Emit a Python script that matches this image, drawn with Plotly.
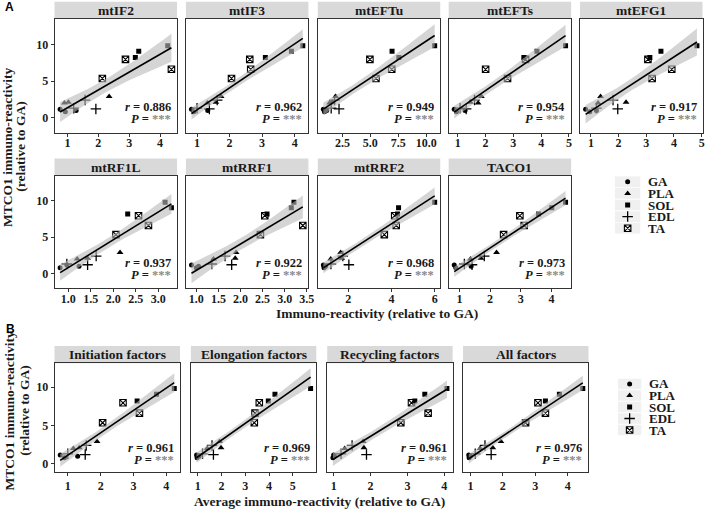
import numpy as np
import plotly.graph_objects as go

W, H = 709, 509

# ---------------- data ----------------
muscles = ["GA", "PLA", "SOL", "EDL", "TA"]
# MTCO1 immuno-reactivity (relative to GA), 3 samples per muscle, order: GA, PLA, SOL, EDL, TA
mtco1 = [1.15, 0.80, 1.00, 2.00, 2.10, 2.90, 8.20, 9.05, 9.80, 1.30, 1.20, 2.40, 7.95, 6.60, 5.35]

factors_A = ["mtIF2", "mtIF3", "mtEFTu", "mtEFTs", "mtEFG1", "mtRF1L", "mtRRF1", "mtRRF2", "TACO1"]
x_mtIF2 = [0.76, 0.93, 1.28, 0.90, 1.03, 2.35, 3.20, 3.31, 4.25, 1.20, 1.92, 1.57, 2.88, 4.37, 2.13]
x_mtIF3 = [0.83, 0.90, 1.33, 1.32, 1.58, 1.74, 3.10, 3.90, 4.25, 1.00, 1.38, 1.62, 2.62, 2.65, 2.06]
x_mtEFTu = [0.80, 0.90, 1.10, 1.36, 1.60, 1.90, 7.55, 6.94, 10.75, 1.50, 2.20, 1.80, 4.96, 6.91, 5.50]
x_mtEFTs = [0.87, 0.95, 1.26, 1.73, 1.45, 1.85, 3.38, 3.85, 4.88, 1.08, 1.30, 1.60, 3.44, 2.00, 2.79]
x_mtEFG1 = [0.81, 0.96, 1.20, 1.26, 2.27, 1.35, 3.13, 3.53, 4.83, 1.20, 1.97, 1.80, 3.06, 3.92, 3.21]
x_mtRF1L = [0.97, 0.82, 1.24, 1.20, 1.43, 2.15, 2.32, 3.29, 3.15, 0.97, 1.43, 1.62, 2.56, 2.78, 2.06]
x_mtRRF1 = [0.89, 1.00, 1.05, 1.39, 1.88, 1.90, 2.60, 3.15, 3.21, 1.35, 1.80, 1.65, 2.55, 3.41, 2.45]
x_mtRRF2 = [0.85, 0.88, 0.95, 1.19, 1.70, 1.65, 4.28, 4.33, 6.00, 1.20, 2.03, 1.75, 4.15, 4.22, 3.67]
x_TACO1 = [0.83, 0.88, 1.38, 1.36, 1.70, 2.21, 3.58, 4.01, 4.46, 1.16, 1.41, 1.81, 2.97, 3.11, 2.44]
r_A = ["0.886", "0.962", "0.949", "0.954", "0.917", "0.937", "0.922", "0.968", "0.973"]

groups_B = ["Initiation factors", "Elongation factors", "Recycling factors", "All factors"]
x_initiation = [0.77, 0.90, 1.30, 1.17, 1.35, 1.89, 3.11, 3.70, 4.24, 1.00, 1.53, 1.56, 2.68, 3.18, 2.06]
x_elongation = [0.95, 0.97, 1.05, 1.40, 1.98, 1.92, 3.97, 4.25, 5.75, 1.20, 1.66, 1.60, 3.59, 3.41, 3.38]
x_recycling = [1.00, 0.98, 1.02, 1.30, 1.82, 1.80, 3.20, 3.47, 4.07, 1.20, 1.89, 1.50, 3.11, 3.56, 2.82]
x_all = [0.95, 0.96, 1.00, 1.30, 1.69, 1.94, 3.31, 3.74, 4.46, 1.15, 1.64, 1.45, 3.08, 3.31, 2.70]
r_B = ["0.961", "0.969", "0.961", "0.976"]

xdata_A = [x_mtIF2, x_mtIF3, x_mtEFTu, x_mtEFTs, x_mtEFG1, x_mtRF1L, x_mtRRF1, x_mtRRF2, x_TACO1]
xdata_B = [x_initiation, x_elongation, x_recycling, x_all]

# ---------------- style / layout ----------------
SERIF = "Liberation Serif"
SANS = "Liberation Sans"
INK = "#1a1a1a"
FRAME = "#333333"
RIBBON = "rgba(185,185,185,0.6)"
STRIP = "#d9d9d9"
KEYBG = "#f0f0f0"

sym = {
    "GA": dict(symbol="circle", size=5, color="black"),
    "PLA": dict(symbol="triangle-up", size=6, color="black"),
    "SOL": dict(symbol="square", size=5, color="black"),
    "EDL": dict(symbol="cross-thin-open", size=7.5, color="black", line=dict(color="black", width=1.3)),
    "TA": dict(symbol="square-x-open", size=6.5, color="black", line=dict(color="black", width=1.1)),
}

T975 = 2.160  # t quantile, df = 13


def px(x):
    return x / W


def py(y):
    return 1 - y / H


def smooth(x, y):
    x = np.asarray(x, float)
    y = np.asarray(y, float)
    n = len(x)
    b1, b0 = np.polyfit(x, y, 1)
    xs = np.linspace(x.min(), x.max(), 80)
    fit = b0 + b1 * xs
    res = y - (b0 + b1 * x)
    s = np.sqrt((res ** 2).sum() / (n - 2))
    se = s * np.sqrt(1 / n + (xs - x.mean()) ** 2 / ((x - x.mean()) ** 2).sum())
    return xs, fit, fit - T975 * se, fit + T975 * se


def xrange_of(x):
    lo, hi = min(x), max(x)
    pad = 0.05 * (hi - lo)
    return [lo - pad, hi + pad]


def yrange_of(xlist):
    lo, hi = min(mtco1), max(mtco1)
    for xd in xlist:
        _, _, l, u = smooth(xd, mtco1)
        lo = min(lo, l.min())
        hi = max(hi, u.max())
    pad = 0.05 * (hi - lo)
    return [lo - pad, hi + pad]


yr_A = yrange_of(xdata_A)
yr_B = yrange_of(xdata_B)

lefts5 = [55, 187.5, 320.5, 452.5, 585]
wA = 123.5
rowsA = [(19, 132.7), (175.7, 288.3)]
leftsB = [55, 192.5, 330, 467]
wB = 126.5
rowB = (363.3, 471.7)

dtick_A = [1, 1, 2.5, 1, 1, 0.5, 0.5, 2, 1]
fmt_A = ["", "", ".1f", "", "", ".1f", ".1f", "", ""]

panels = []
for i, name in enumerate(factors_A):
    row = 0 if i < 5 else 1
    col = i if i < 5 else i - 5
    top, bot = rowsA[row]
    panels.append(dict(name=name, x=xdata_A[i], r=r_A[i], box=(lefts5[col], lefts5[col] + wA, top, bot),
                       first=(col == 0), dtick=dtick_A[i], fmt=fmt_A[i], yr=yr_A, ann=(0.228, 0.118),
                       standoff=-4))
for i, name in enumerate(groups_B):
    top, bot = rowB
    panels.append(dict(name=name, x=xdata_B[i], r=r_B[i], box=(leftsB[i], leftsB[i] + wB, top, bot),
                       first=(i == 0), dtick=1, fmt="", yr=yr_B, ann=(0.222, 0.105), standoff=0))

fig = go.Figure()
layout = dict(width=W, height=H, margin=dict(l=0, r=0, t=0, b=0), autosize=False,
              plot_bgcolor="rgba(0,0,0,0)", paper_bgcolor="white", showlegend=False,
              font=dict(family=SERIF))
annotations = []
shapes = []

tickfont = dict(family=SERIF, size=12, color=INK, weight="bold")

for k, p in enumerate(panels, start=1):
    xa = "x" if k == 1 else f"x{k}"
    ya = "y" if k == 1 else f"y{k}"
    l, r, t, b = p["box"]
    xd = p["x"]
    # points (drawn first; the confidence ribbon is painted over them)
    for j, m in enumerate(muscles):
        fig.add_trace(go.Scatter(x=xd[3 * j:3 * j + 3], y=mtco1[3 * j:3 * j + 3], mode="markers",
                                 marker=sym[m], xaxis=xa, yaxis=ya, hoverinfo="skip"))
    xs, fit, lo, hi = smooth(xd, mtco1)
    fig.add_trace(go.Scatter(x=np.concatenate([xs, xs[::-1]]), y=np.concatenate([hi, lo[::-1]]),
                             fill="toself", fillcolor=RIBBON, line=dict(width=0), mode="lines",
                             xaxis=xa, yaxis=ya, hoverinfo="skip"))
    fig.add_trace(go.Scatter(x=xs, y=fit, mode="lines", line=dict(color="black", width=1.6),
                             xaxis=xa, yaxis=ya, hoverinfo="skip"))

    kx = "xaxis" if k == 1 else f"xaxis{k}"
    ky = "yaxis" if k == 1 else f"yaxis{k}"
    layout[kx] = dict(domain=[px(l), px(r)], range=xrange_of(xd), anchor=ya, showgrid=False, zeroline=False,
                      showline=True, mirror=True, linecolor=FRAME, linewidth=1, ticks="outside", ticklen=3,
                      tickcolor=FRAME, tickwidth=1, tick0=0, dtick=p["dtick"], tickformat=p["fmt"],
                      tickfont=tickfont, ticklabelstandoff=p["standoff"])
    layout[ky] = dict(domain=[py(b), py(t)], range=p["yr"], anchor=xa, showgrid=False, zeroline=False,
                      showline=True, mirror=True, linecolor=FRAME, linewidth=1,
                      ticks="outside" if p["first"] else "", ticklen=3, tickcolor=FRAME, tickwidth=1,
                      tickvals=[0, 5, 10], showticklabels=p["first"], tickfont=tickfont)
    # strip
    shapes.append(dict(type="rect", xref="paper", yref="paper", x0=px(l), x1=px(r), y0=py(t), y1=py(t - 17.3),
                       fillcolor=STRIP, line=dict(width=0), layer="below"))
    annotations.append(dict(text=p["name"], xref="paper", yref="paper", x=px((l + r) / 2), y=py(t - 8.5),
                            showarrow=False, xanchor="center", yanchor="middle",
                            font=dict(family=SERIF, size=13.5, color=INK, weight="bold")))
    # correlation labels
    annotations.append(dict(text=f"<i>r</i> = {p['r']}", xref=f"{xa} domain", yref=f"{ya} domain",
                            x=1, xshift=-4, y=p["ann"][0], showarrow=False, xanchor="right", yanchor="middle",
                            font=dict(family=SERIF, size=12.5, color=INK, weight="bold")))
    annotations.append(dict(text="<i>P</i> = <span style='color:#8a8a8a'>***</span>", xref=f"{xa} domain",
                            yref=f"{ya} domain", x=1, xshift=-4, y=p["ann"][1], showarrow=False,
                            xanchor="right", yanchor="middle",
                            font=dict(family=SERIF, size=12.5, color=INK, weight="bold")))

# ---------------- legends (manual, ggplot-style keys) ----------------
leg_specs = [
    (14, (620, 646), (176.0, 234.0), 651.5),
    (15, (623, 647), (378.2, 435.8), 653.0),
]
for k, (kl, kr), (kt, kb), tx in leg_specs:
    xa, ya = f"x{k}", f"y{k}"
    layout[f"xaxis{k}"] = dict(domain=[px(kl), px(kr)], range=[0, 1], visible=False, anchor=ya)
    layout[f"yaxis{k}"] = dict(domain=[py(kb), py(kt)], range=[len(muscles) - 0.5, -0.5], visible=False,
                               anchor=xa)
    for j, m in enumerate(muscles):
        shapes.append(dict(type="rect", xref=xa, yref=ya, x0=0, x1=1, y0=j - 0.46, y1=j + 0.46,
                           fillcolor=KEYBG, line=dict(width=0), layer="below"))
        fig.add_trace(go.Scatter(x=[0.5], y=[j], mode="markers", marker=sym[m], xaxis=xa, yaxis=ya,
                                 hoverinfo="skip"))
        annotations.append(dict(text=m, xref="paper", yref=ya, x=px(tx), y=j, showarrow=False,
                                xanchor="left", yanchor="middle",
                                font=dict(family=SERIF, size=13, color=INK, weight="bold")))

# ---------------- axis titles and panel tags ----------------
title_font = dict(family=SERIF, size=13.5, color=INK, weight="bold")
annotations += [
    dict(text="MTCO1 immuno-reactivity", xref="paper", yref="paper", x=px(7), y=py(147), textangle=-90,
         showarrow=False, xanchor="center", yanchor="middle", font=title_font),
    dict(text="(relative to GA)", xref="paper", yref="paper", x=px(20), y=py(147), textangle=-90,
         showarrow=False, xanchor="center", yanchor="middle", font=title_font),
    dict(text="Immuno-reactivity (relative to GA)", xref="paper", yref="paper", x=px(380), y=py(313),
         showarrow=False, xanchor="center", yanchor="middle", font=title_font),
    dict(text="MTCO1 immuno-reactivity", xref="paper", yref="paper", x=px(9.5), y=py(411), textangle=-90,
         showarrow=False, xanchor="center", yanchor="middle", font=title_font),
    dict(text="(relative to GA)", xref="paper", yref="paper", x=px(24), y=py(411), textangle=-90,
         showarrow=False, xanchor="center", yanchor="middle", font=title_font),
    dict(text="Average immuno-reactivity (relative to GA)", xref="paper", yref="paper", x=px(322),
         y=py(501), showarrow=False, xanchor="center", yanchor="middle", font=title_font),
    dict(text="A", xref="paper", yref="paper", x=px(3), y=py(7), showarrow=False, xanchor="left",
         yanchor="middle", font=dict(family=SANS, size=12, color="black", weight="bold")),
    dict(text="B", xref="paper", yref="paper", x=px(4), y=py(329), showarrow=False, xanchor="left",
         yanchor="middle", font=dict(family=SANS, size=12, color="black", weight="bold")),
]

layout["annotations"] = annotations
layout["shapes"] = shapes
fig.update_layout(**layout)
fig.write_html("out.html", config={"displayModeBar": False, "staticPlot": True},
               post_script="document.body.style.margin='0px';document.body.style.overflow='hidden';")
